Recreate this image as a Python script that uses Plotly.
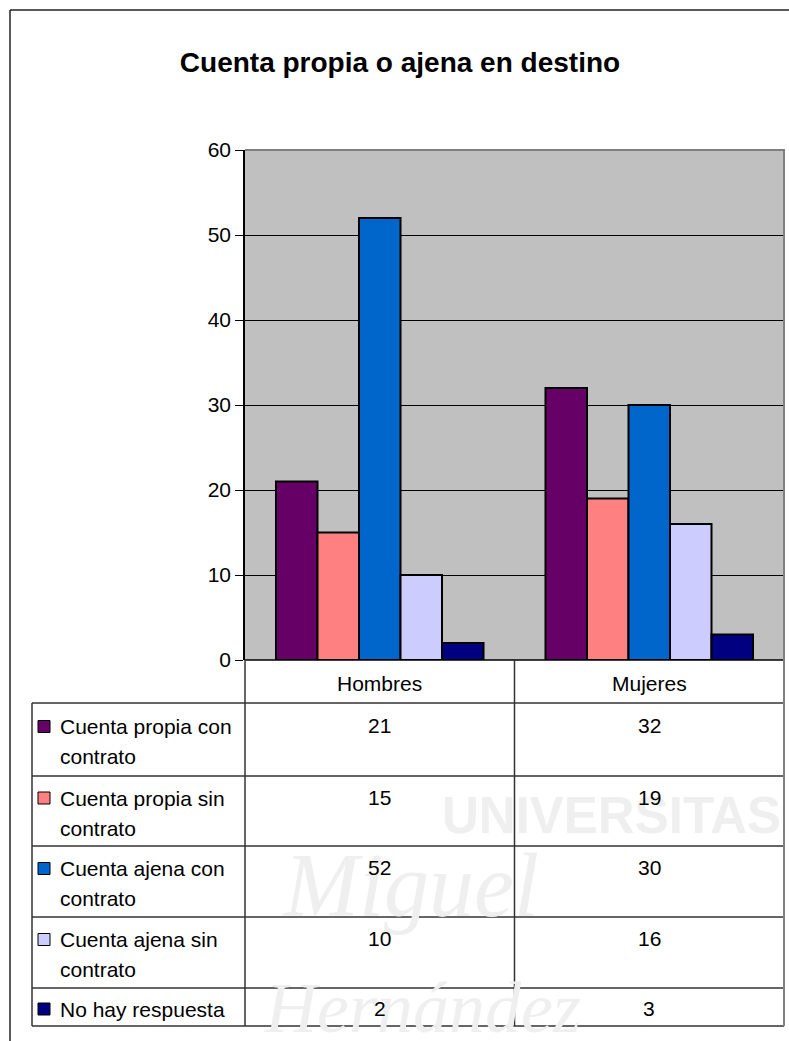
import textwrap

import plotly.graph_objects as go

categories = ["Hombres", "Mujeres"]
series_names = [
    "Cuenta propia con contrato",
    "Cuenta propia sin contrato",
    "Cuenta ajena con contrato",
    "Cuenta ajena sin contrato",
    "No hay respuesta",
]
propia_con = [21, 32]
propia_sin = [15, 19]
ajena_con = [52, 30]
ajena_sin = [10, 16]
no_respuesta = [2, 3]
series_values = [propia_con, propia_sin, ajena_con, ajena_sin, no_respuesta]
colors = ["#660066", "#FF8080", "#0066CC", "#CCCCFF", "#000080"]

W, H = 789, 1041
FONT = "Liberation Sans, Arial, sans-serif"


def px(x):
    return x / W


def py(y):
    return 1 - y / H


fig = go.Figure()

for name, vals, c in zip(series_names, series_values, colors):
    fig.add_trace(go.Bar(
        name=name, x=categories, y=vals,
        marker=dict(color=c, line=dict(color="black", width=2)),
    ))

fig.update_layout(
    width=W, height=H,
    margin=dict(l=0, r=0, t=0, b=0),
    paper_bgcolor="white",
    plot_bgcolor="#C0C0C0",
    barmode="group",
    bargap=0.23,
    bargroupgap=0,
    showlegend=False,
    font=dict(family=FONT, size=21, color="black"),
    title=dict(
        text="<b>Cuenta propia o ajena en destino</b>",
        x=px(400), xanchor="center", y=py(62), yanchor="middle",
        font=dict(family=FONT, size=28, color="black"),
    ),
)
fig.update_xaxes(
    domain=[px(245), px(784)], range=[-0.5, 1.5], automargin=False,
    showticklabels=False, ticks="", showline=False, showgrid=False, zeroline=False,
)
fig.update_yaxes(
    domain=[py(660), py(150)], range=[0, 60], dtick=10, automargin=False,
    showgrid=True, gridcolor="black", gridwidth=1,
    ticks="outside", ticklen=8, tickcolor="black", tickwidth=1,
    showline=True, linecolor="black", linewidth=1.5, zeroline=False,
    tickfont=dict(family=FONT, size=21, color="black"),
)

# faint watermark from the scanned page
wm = "#EFEFEF"
fig.add_annotation(text="<b>UNIVERSITAS</b>", xref="paper", yref="paper",
                   x=px(440), y=py(815), xanchor="left", yanchor="middle", showarrow=False,
                   font=dict(family=FONT, size=51, color=wm))
fig.add_annotation(text="<i>Miguel</i>", xref="paper", yref="paper",
                   x=px(280), y=py(885), xanchor="left", yanchor="middle", showarrow=False,
                   font=dict(family="Liberation Serif, serif", size=90, color=wm))
fig.add_annotation(text="<i>Hernández</i>", xref="paper", yref="paper",
                   x=px(262), y=py(1008), xanchor="left", yanchor="middle", showarrow=False,
                   font=dict(family="Liberation Serif, serif", size=72, color=wm))

line_col = "#333333"
rows = [660, 703, 776, 846, 917, 988, 1026]

# outer frame (top and left edges; the rest lies outside the picture)
fig.add_shape(type="line", xref="paper", yref="paper",
              x0=px(10), x1=1, y0=py(10), y1=py(10),
              line=dict(color="#222222", width=1.5))
fig.add_shape(type="line", xref="paper", yref="paper",
              x0=px(10), x1=px(10), y0=py(10), y1=0,
              line=dict(color="#222222", width=1.5))

# table horizontal lines
for i, y in enumerate(rows):
    x_start = 245 if i == 0 else 32
    fig.add_shape(type="line", xref="paper", yref="paper",
                  x0=px(x_start), x1=px(784), y0=py(y), y1=py(y),
                  line=dict(color="black" if i == 0 else line_col, width=1.5))

# table vertical lines
fig.add_shape(type="line", xref="paper", yref="paper",
              x0=px(32), x1=px(32), y0=py(703), y1=py(1026),
              line=dict(color=line_col, width=1.5))
fig.add_shape(type="line", xref="paper", yref="paper",
              x0=px(245), x1=px(245), y0=py(660), y1=py(1026),
              line=dict(color=line_col, width=1.5))
fig.add_shape(type="line", xref="x", yref="paper",
              x0=0.5, x1=0.5, y0=py(660), y1=py(1026),
              line=dict(color=line_col, width=1.5))

# gray plot-area border (top and right)
fig.add_shape(type="line", xref="paper", yref="paper",
              x0=px(245), x1=px(785), y0=py(150), y1=py(150),
              line=dict(color="#808080", width=2))
fig.add_shape(type="line", xref="paper", yref="paper",
              x0=px(784), x1=px(784), y0=py(149), y1=py(1026),
              line=dict(color="#808080", width=2))

# header row with category names
for cat in categories:
    fig.add_annotation(text=cat, xref="x", yref="paper", x=cat, y=py(683),
                       xanchor="center", yanchor="middle", showarrow=False,
                       font=dict(family=FONT, size=21, color="black"))

# data rows
for r, (name, vals, c) in enumerate(zip(series_names, series_values, colors)):
    top, bottom = rows[r + 1], rows[r + 2]
    lines = textwrap.wrap(name, 17)
    first_y = (top + bottom) / 2 - 15 * (len(lines) - 1) + 2
    for k, ln in enumerate(lines):
        fig.add_annotation(text=ln, xref="paper", yref="paper",
                           x=px(58), y=py(first_y + 30 * k),
                           xanchor="left", yanchor="middle", showarrow=False,
                           font=dict(family=FONT, size=21, color="black"))
    fig.add_shape(type="rect", xref="paper", yref="paper",
                  x0=px(38), x1=px(50), y0=py(first_y - 6), y1=py(first_y + 6),
                  fillcolor=c, line=dict(color="black", width=1))
    for cat, v in zip(categories, vals):
        fig.add_annotation(text=str(v), xref="x", yref="paper", x=cat, y=py(first_y - 1),
                           xanchor="center", yanchor="middle", showarrow=False,
                           font=dict(family=FONT, size=21, color="black"))

# drop the default page margin so the 789x1041 figure fills the window exactly
fig.write_html("out.html", config={"displayModeBar": False},
               post_script="document.body.style.margin = '0';")
